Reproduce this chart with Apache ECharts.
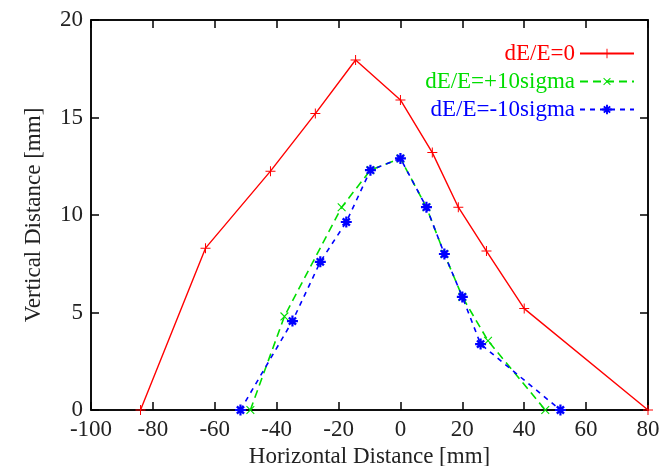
<!DOCTYPE html>
<html>
<head>
<meta charset="utf-8">
<script src="https://cdn.jsdelivr.net/npm/echarts@6/dist/echarts.min.js"></script>
<style>
  html, body { margin: 0; padding: 0; background: #fff; }
  #chart { width: 664px; height: 466px; }
</style>
</head>
<body>
<div id="chart"></div>
<script>
// series values
var seriesNames = ['dE/E=0', 'dE/E=+10sigma', 'dE/E=-10sigma']
var zeroX = [-84, -63, -42, -27.5, -14.5, 0, 10.3, 18.7, 27.8, 40, 80]
var zeroY = [0, 8.3, 12.25, 15.2, 17.95, 15.9, 13.2, 10.4, 8.15, 5.2, 0]
var plusX = [-48.5, -37.5, -19, -9.7, 0, 8.4, 14.2, 20, 28.3, 46.8]
var plusY = [0, 4.8, 10.4, 12.3, 12.9, 10.4, 8.0, 5.8, 3.55, 0]
var minusX = [-51.7, -34.9, -25.9, -17.5, -9.7, 0, 8.4, 14.2, 20, 25.9, 51.7]
var minusY = [0, 4.56, 7.6, 9.64, 12.3, 12.9, 10.4, 8.0, 5.8, 3.38, 0]
var xTicks = [-100, 80, 20]
var yTicks = [0, 20, 5]

function pairs (xs, ys) {
  var out = []
  for (var i = 0; i < xs.length; i++) out.push([xs[i], ys[i]])
  return out
}

var FONT = '"Liberation Serif", "DejaVu Serif", serif'
var plusPath = 'path://M-1,-10L1,-10L1,-1L10,-1L10,1L1,1L1,10L-1,10L-1,1L-10,1L-10,-1L-1,-1Z'
var starPath = 'path://M-2,-10L2,-10L2,10L-2,10Z M-10,-2L10,-2L10,2L-10,2Z M-8,-5L-5,-8L8,5L5,8Z M5,-8L8,-5L-5,8L-8,5Z'
var colors = ['#ff0000', '#00dd00', '#0000ff']

var chart = echarts.init(document.getElementById('chart'))

var tickStyle = { show: true, inside: true, length: 8, lineStyle: { color: '#000', width: 1.5 } }
var lineStyleAxis = { show: true, onZero: false, lineStyle: { color: '#000', width: 1.5 } }

chart.setOption({
  animation: false,
  color: colors,
  grid: {
    left: 91, right: 16, top: 20, bottom: 56,
    containLabel: false, outerBoundsMode: 'none',
    show: true, borderColor: '#000', borderWidth: 1.5
  },
  legend: {
    orient: 'vertical',
    align: 'right',
    right: 24,
    top: 37,
    itemWidth: 54,
    itemHeight: 12,
    itemGap: 5,
    textStyle: { fontFamily: FONT, fontSize: 23 },
    data: seriesNames.map(function (n, i) {
      return { name: n, textStyle: { color: colors[i] } }
    })
  },
  xAxis: [{
    type: 'value',
    min: xTicks[0], max: xTicks[1], interval: xTicks[2],
    name: 'Horizontal Distance [mm]',
    nameLocation: 'middle',
    nameGap: 32,
    nameTextStyle: { fontFamily: FONT, fontSize: 23, color: '#222' },
    axisLine: lineStyleAxis,
    axisTick: tickStyle,
    axisLabel: { fontFamily: FONT, fontSize: 23, color: '#222', margin: 8 },
    splitLine: { show: false }
  }, {
    type: 'value', position: 'top',
    min: xTicks[0], max: xTicks[1], interval: xTicks[2],
    axisLine: lineStyleAxis, axisTick: tickStyle,
    axisLabel: { show: false }, splitLine: { show: false }
  }],
  yAxis: [{
    type: 'value',
    min: yTicks[0], max: yTicks[1], interval: yTicks[2],
    name: 'Vertical Distance [mm]',
    nameLocation: 'middle',
    nameGap: 46,
    nameTextStyle: { fontFamily: FONT, fontSize: 23, color: '#222' },
    axisLine: lineStyleAxis,
    axisTick: tickStyle,
    axisLabel: { fontFamily: FONT, fontSize: 23, color: '#222', margin: 8 },
    splitLine: { show: false }
  }, {
    type: 'value', position: 'right',
    min: yTicks[0], max: yTicks[1], interval: yTicks[2],
    axisLine: lineStyleAxis, axisTick: tickStyle,
    axisLabel: { show: false }, splitLine: { show: false }
  }],
  series: [
    {
      name: seriesNames[0],
      type: 'line',
      data: pairs(zeroX, zeroY),
      symbol: plusPath,
      symbolSize: 10,
      clip: false,
      lineStyle: { width: 1.4, color: colors[0] },
      itemStyle: { color: colors[0] }
    },
    {
      name: seriesNames[1],
      type: 'line',
      data: pairs(plusX, plusY),
      symbol: plusPath,
      symbolRotate: 45,
      symbolSize: 11,
      lineStyle: { width: 1.6, color: colors[1], type: [8, 5] },
      itemStyle: { color: colors[1] }
    },
    {
      name: seriesNames[2],
      type: 'line',
      data: pairs(minusX, minusY),
      symbol: starPath,
      symbolSize: 11,
      lineStyle: { width: 1.6, color: colors[2], type: [5, 5] },
      itemStyle: { color: colors[2] }
    }
  ]
})
</script>
</body>
</html>
